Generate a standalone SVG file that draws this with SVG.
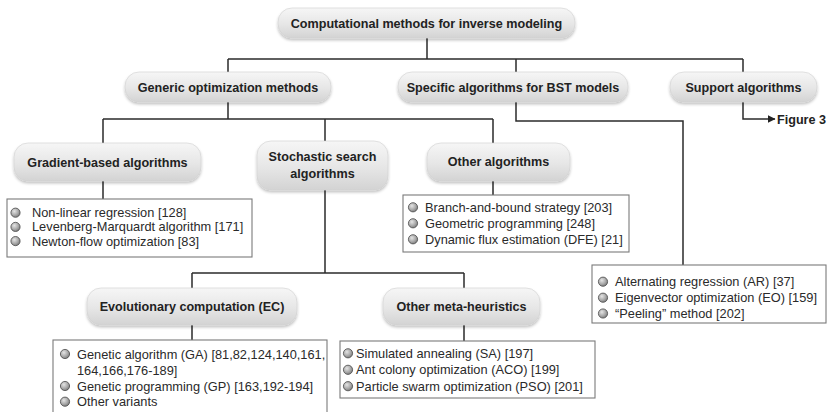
<svg xmlns="http://www.w3.org/2000/svg" width="827" height="412" viewBox="0 0 827 412">
  <defs>
    <linearGradient id="pillFill" x1="0" y1="0" x2="0" y2="1">
      <stop offset="0" stop-color="#f6f6f6"/>
      <stop offset="0.55" stop-color="#e6e6e6"/>
      <stop offset="1" stop-color="#d3d3d3"/>
    </linearGradient>
    <radialGradient id="ballFill" cx="0.38" cy="0.35" r="0.7">
      <stop offset="0" stop-color="#e4e4e4"/>
      <stop offset="0.6" stop-color="#a8a8a8"/>
      <stop offset="1" stop-color="#777"/>
    </radialGradient>
    <filter id="soft" x="-10%" y="-20%" width="120%" height="150%">
      <feGaussianBlur in="SourceAlpha" stdDeviation="1.5"/>
      <feOffset dx="0" dy="1.5" result="b"/>
      <feComponentTransfer><feFuncA type="linear" slope="0.25"/></feComponentTransfer>
      <feMerge><feMergeNode/><feMergeNode in="SourceGraphic"/></feMerge>
    </filter>
    <marker id="arrow" viewBox="0 0 8 8" refX="7.5" refY="4" markerWidth="8" markerHeight="8" markerUnits="userSpaceOnUse" orient="auto">
      <path d="M0,0 L8,4 L0,8 Z" fill="#222"/>
    </marker>
    <style>
      .pill { fill: url(#pillFill); stroke: #d0d0d0; stroke-width: 0.6; filter: url(#soft); }
      .box { fill: #fff; stroke: #7a7a7a; stroke-width: 1.1; }
      .ball { fill: url(#ballFill); stroke: #4a4a4a; stroke-width: 0.8; }
      .head { font-family: "Liberation Sans", Arial, sans-serif; font-weight: bold; font-size: 12.6px; fill: #222; text-anchor: middle; }
      .item { font-family: "Liberation Sans", Arial, sans-serif; font-size: 12.8px; fill: #2a2a2a; }
      .link { fill: none; stroke: #2b2b2b; stroke-width: 1.5; }
    </style>
  </defs>

  <rect width="827" height="412" fill="#fff"/>

  <!-- connectors -->
  <g id="connectors" class="link">
    <path d="M427,38 V59 M228,59 H743 M228,59 V72 M516,59 V72 M743,59 V72"/>
    <path d="M228,102 V119 M103,119 H493 M103,119 V143 M325,119 V141 M493,119 V143"/>
    <path d="M516,102 V121 H683 V265"/>
    <path d="M743,102 V119 H775" marker-end="url(#arrow)"/>
    <path d="M103,181 V199 M493,181 V195"/>
    <path d="M325,190 V273 M192,273 H464 M192,273 V288 M464,273 V288"/>
    <path d="M192,325 V340 M464,325 V341"/>
  </g>

  <!-- root -->
  <g id="root">
    <rect class="pill" x="278" y="8" width="297" height="30" rx="14"/>
    <text class="head" x="426.5" y="27.5">Computational methods for inverse modeling</text>
  </g>

  <!-- first level -->
  <g id="generic">
    <rect class="pill" x="125" y="72" width="206" height="30" rx="14"/>
    <text class="head" x="228" y="91.5">Generic optimization methods</text>
  </g>
  <g id="specific">
    <rect class="pill" x="398" y="72" width="230" height="30" rx="14"/>
    <text class="head" x="513" y="91.5">Specific algorithms for BST models</text>
  </g>
  <g id="support">
    <rect class="pill" x="670" y="72" width="147" height="30" rx="14"/>
    <text class="head" x="743.5" y="91.5">Support algorithms</text>
    <text class="head" x="777" y="123.5" style="text-anchor:start">Figure 3</text>
  </g>

  <!-- second level -->
  <g id="gradient">
    <rect class="pill" x="14" y="143" width="187" height="38" rx="14"/>
    <text class="head" x="107.5" y="166.5">Gradient-based algorithms</text>
  </g>
  <g id="stochastic">
    <rect class="pill" x="257" y="141" width="131" height="49" rx="14"/>
    <text class="head" x="322.5" y="161">Stochastic search</text>
    <text class="head" x="322.5" y="178">algorithms</text>
  </g>
  <g id="other-algorithms">
    <rect class="pill" x="427" y="143" width="143" height="38" rx="14"/>
    <text class="head" x="498.5" y="166">Other algorithms</text>
  </g>

  <!-- third level -->
  <g id="evolutionary">
    <rect class="pill" x="87" y="288" width="210" height="37" rx="14"/>
    <text class="head" x="192" y="311">Evolutionary computation (EC)</text>
  </g>
  <g id="meta-heuristics">
    <rect class="pill" x="383" y="288" width="157" height="37" rx="14"/>
    <text class="head" x="461.5" y="311">Other meta-heuristics</text>
  </g>

  <!-- method lists -->
  <g id="list-gradient">
    <rect class="box" x="7" y="199" width="245" height="58"/>
    <circle class="ball" cx="15.5" cy="212.7" r="4.6"/>
    <circle class="ball" cx="15.5" cy="226.9" r="4.6"/>
    <circle class="ball" cx="15.5" cy="241.1" r="4.6"/>
    <text class="item" x="32" y="217.2">Non-linear regression [128]</text>
    <text class="item" x="32" y="231.4">Levenberg-Marquardt algorithm [171]</text>
    <text class="item" x="32" y="245.6">Newton-flow optimization [83]</text>
  </g>
  <g id="list-other">
    <rect class="box" x="403" y="195" width="226" height="57"/>
    <circle class="ball" cx="413" cy="207.3" r="4.6"/>
    <circle class="ball" cx="413" cy="223.3" r="4.6"/>
    <circle class="ball" cx="413" cy="239.3" r="4.6"/>
    <text class="item" x="425" y="211.8">Branch-and-bound strategy [203]</text>
    <text class="item" x="425" y="227.8">Geometric programming [248]</text>
    <text class="item" x="425" y="243.8">Dynamic flux estimation (DFE) [21]</text>
  </g>
  <g id="list-specific">
    <rect class="box" x="592" y="265" width="234" height="58"/>
    <circle class="ball" cx="603" cy="281.7" r="4.6"/>
    <circle class="ball" cx="603" cy="297.7" r="4.6"/>
    <circle class="ball" cx="603" cy="313.5" r="4.6"/>
    <text class="item" x="615" y="286.2">Alternating regression (AR) [37]</text>
    <text class="item" x="615" y="302.2">Eigenvector optimization (EO) [159]</text>
    <text class="item" x="615" y="318">“Peeling” method [202]</text>
  </g>
  <g id="list-evolutionary">
    <rect class="box" x="53" y="340" width="274" height="90"/>
    <circle class="ball" cx="65" cy="354" r="4.6"/>
    <circle class="ball" cx="65" cy="386" r="4.6"/>
    <circle class="ball" cx="65" cy="401.7" r="4.6"/>
    <text class="item" x="77" y="358.5">Genetic algorithm (GA) [81,82,124,140,161,</text>
    <text class="item" x="77" y="374.5">164,166,176-189]</text>
    <text class="item" x="77" y="390.5">Genetic programming (GP) [163,192-194]</text>
    <text class="item" x="77" y="406.2">Other variants</text>
  </g>
  <g id="list-meta">
    <rect class="box" x="340" y="341" width="255" height="57"/>
    <circle class="ball" cx="348" cy="353.3" r="4.6"/>
    <circle class="ball" cx="348" cy="369.8" r="4.6"/>
    <circle class="ball" cx="348" cy="386.2" r="4.6"/>
    <text class="item" x="356" y="357.8">Simulated annealing (SA) [197]</text>
    <text class="item" x="356" y="374.3">Ant colony optimization (ACO) [199]</text>
    <text class="item" x="356" y="390.7">Particle swarm optimization (PSO) [201]</text>
  </g>
</svg>
